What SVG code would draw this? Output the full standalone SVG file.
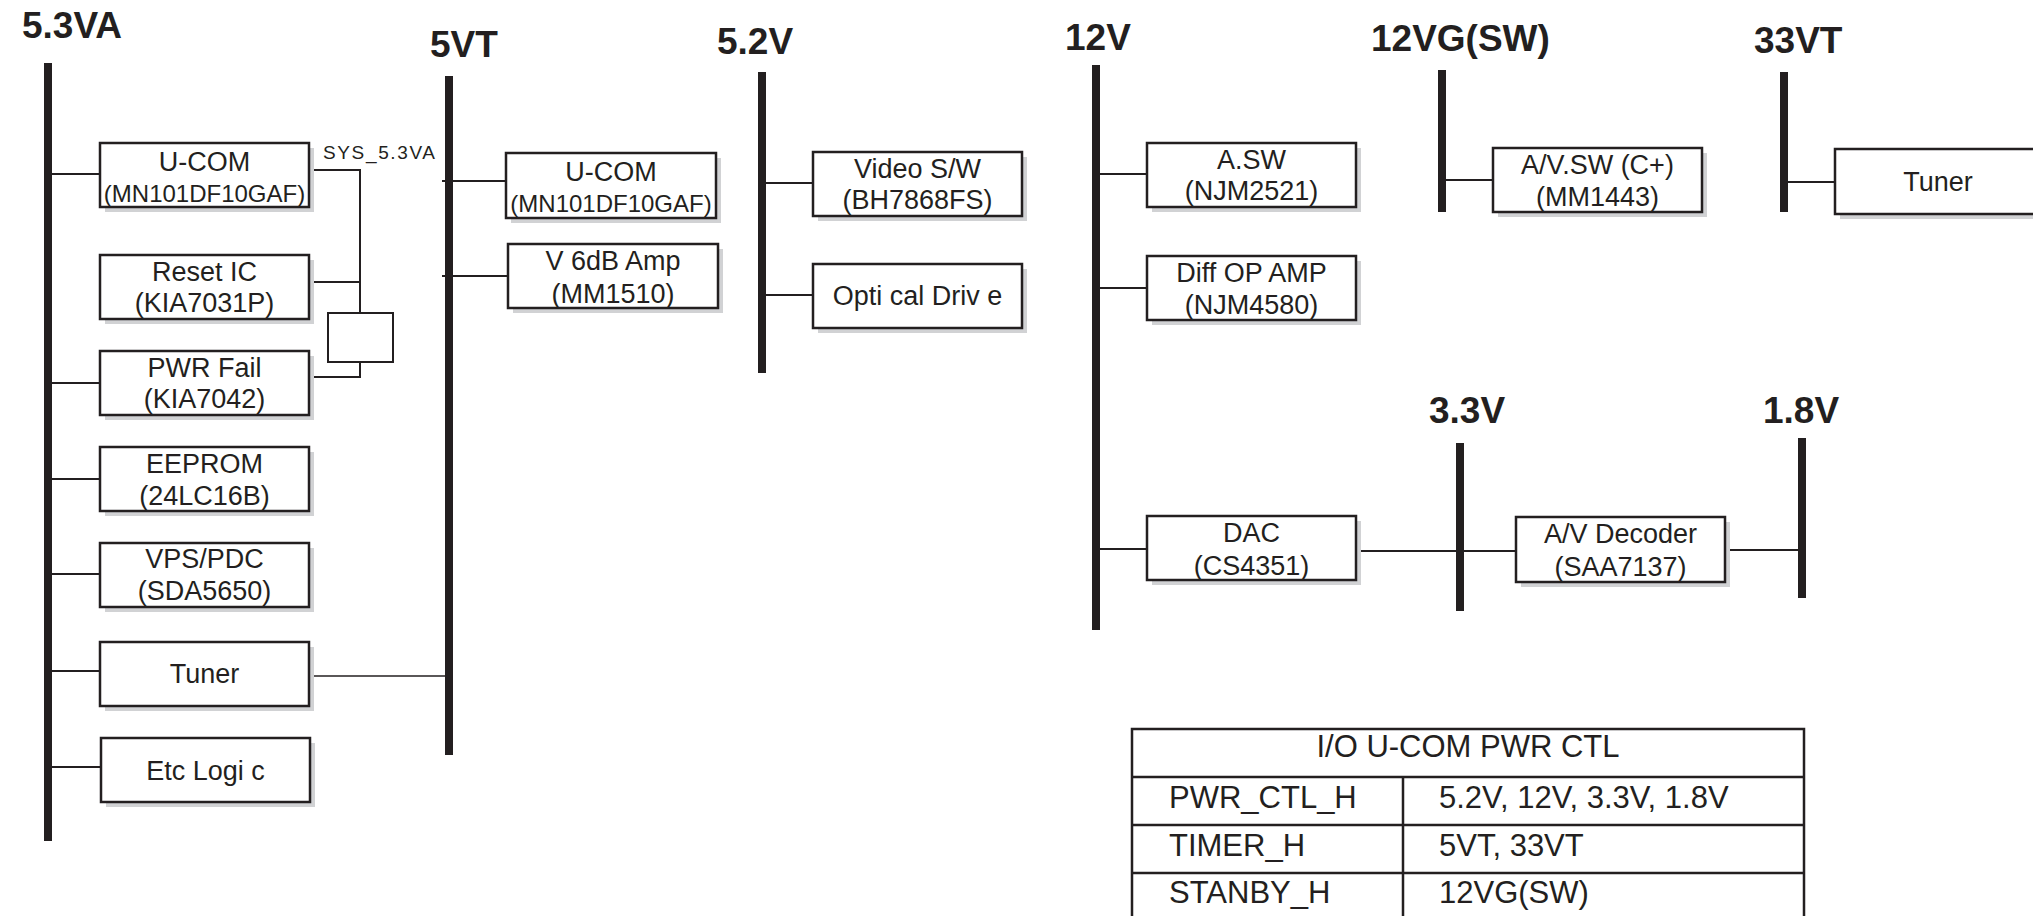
<svg xmlns="http://www.w3.org/2000/svg" width="2033" height="916" viewBox="0 0 2033 916">
<style>
.bus{fill:#231f20}
.shadow{fill:#d1d2d4}
.box{fill:#fff;stroke:#231f20;stroke-width:2.5}
.wire{stroke:#231f20;stroke-width:2;fill:none}
.thin{stroke:#231f20;stroke-width:1.4;fill:none}
.t{font-family:"Liberation Sans",Arial,sans-serif;font-size:27px;fill:#231f20;text-anchor:middle}
.s{font-size:24px}
.h{font-family:"Liberation Sans",Arial,sans-serif;font-size:37px;font-weight:bold;fill:#231f20}
.tb{font-family:"Liberation Sans",Arial,sans-serif;font-size:31px;fill:#231f20}
.grid{stroke:#231f20;stroke-width:2.5;fill:none}
</style>

<g id="rails">
  <rect class="bus" x="44" y="63" width="8" height="778"/>
  <rect class="bus" x="445" y="76" width="8" height="679"/>
  <rect class="bus" x="758" y="72" width="8" height="301"/>
  <rect class="bus" x="1092" y="65" width="8" height="565"/>
  <rect class="bus" x="1438" y="70" width="8" height="142"/>
  <rect class="bus" x="1780" y="72" width="8" height="140"/>
  <rect class="bus" x="1456" y="443" width="8" height="168"/>
  <rect class="bus" x="1798" y="438" width="8" height="160"/>
  <text class="h" x="22" y="38">5.3VA</text>
  <text class="h" x="430" y="57">5VT</text>
  <text class="h" x="717" y="54">5.2V</text>
  <text class="h" x="1065" y="50">12V</text>
  <text class="h" x="1371" y="51">12VG(SW)</text>
  <text class="h" x="1754" y="53">33VT</text>
  <text class="h" x="1429" y="423">3.3V</text>
  <text class="h" x="1763" y="423">1.8V</text>
</g>

<g id="connectors">
  <path class="wire" d="M52 174H100M52 383H100M52 479H100M52 574H100M52 671H100M52 767H101"/>
  <path class="wire" d="M309 170H360V313M309 282H360M360 362V377H309"/>
  <path class="thin" d="M309 676H445"/>
  <path class="wire" d="M442 181H506M442 276H508"/>
  <path class="wire" d="M762 183H813M762 295H813"/>
  <path class="wire" d="M1096 174H1147M1096 288H1147M1096 549H1147"/>
  <path class="wire" d="M1442 180H1493"/>
  <path class="wire" d="M1784 182H1835"/>
  <path class="wire" d="M1356 551H1516"/>
  <path class="wire" d="M1725 550H1802"/>
  <text x="323" y="159" font-family="Liberation Sans, Arial, sans-serif" font-size="19" fill="#231f20" textLength="112">SYS_5.3VA</text>
</g>

<g id="ucom1"><rect class="shadow" x="105" y="148" width="209" height="64"/><rect class="box" x="100" y="143" width="209" height="64"/><text class="t" x="204.5" y="171">U-COM</text><text class="t s" x="204.5" y="202">(MN101DF10GAF)</text></g>
<g id="reset"><rect class="shadow" x="105" y="260" width="209" height="64"/><rect class="box" x="100" y="255" width="209" height="64"/><text class="t" x="204.5" y="281">Reset IC</text><text class="t" x="204.5" y="312">(KIA7031P)</text></g>
<g id="sysbox"><rect class="box" x="328" y="313" width="65" height="49" style="stroke-width:2"/></g>
<g id="pwrfail"><rect class="shadow" x="105" y="356" width="209" height="64"/><rect class="box" x="100" y="351" width="209" height="64"/><text class="t" x="204.5" y="377">PWR Fail</text><text class="t" x="204.5" y="408">(KIA7042)</text></g>
<g id="eeprom"><rect class="shadow" x="105" y="452" width="209" height="64"/><rect class="box" x="100" y="447" width="209" height="64"/><text class="t" x="204.5" y="473">EEPROM</text><text class="t" x="204.5" y="505">(24LC16B)</text></g>
<g id="vps"><rect class="shadow" x="105" y="548" width="209" height="64"/><rect class="box" x="100" y="543" width="209" height="64"/><text class="t" x="204.5" y="568">VPS/PDC</text><text class="t" x="204.5" y="600">(SDA5650)</text></g>
<g id="tuner1"><rect class="shadow" x="105" y="647" width="209" height="64"/><rect class="box" x="100" y="642" width="209" height="64"/><text class="t" x="204.5" y="683">Tuner</text></g>
<g id="etc"><rect class="shadow" x="106" y="743" width="209" height="64"/><rect class="box" x="101" y="738" width="209" height="64"/><text class="t" x="205.5" y="780">Etc Logi c</text></g>

<g id="ucom2"><rect class="shadow" x="511" y="158" width="210" height="65"/><rect class="box" x="506" y="153" width="210" height="65"/><text class="t" x="611" y="181">U-COM</text><text class="t s" x="611" y="212">(MN101DF10GAF)</text></g>
<g id="v6db"><rect class="shadow" x="513" y="249" width="210" height="64"/><rect class="box" x="508" y="244" width="210" height="64"/><text class="t" x="613" y="270">V 6dB Amp</text><text class="t" x="613" y="303">(MM1510)</text></g>

<g id="videosw"><rect class="shadow" x="818" y="157" width="209" height="64"/><rect class="box" x="813" y="152" width="209" height="64"/><text class="t" x="917.5" y="178">Video S/W</text><text class="t" x="917.5" y="209">(BH7868FS)</text></g>
<g id="optical"><rect class="shadow" x="818" y="269" width="209" height="64"/><rect class="box" x="813" y="264" width="209" height="64"/><text class="t" x="917.5" y="305">Opti cal Driv e</text></g>

<g id="asw"><rect class="shadow" x="1152" y="148" width="209" height="64"/><rect class="box" x="1147" y="143" width="209" height="64"/><text class="t" x="1251.5" y="169">A.SW</text><text class="t" x="1251.5" y="200">(NJM2521)</text></g>
<g id="diffop"><rect class="shadow" x="1152" y="261" width="209" height="64"/><rect class="box" x="1147" y="256" width="209" height="64"/><text class="t" x="1251.5" y="282">Diff OP AMP</text><text class="t" x="1251.5" y="314">(NJM4580)</text></g>
<g id="dac"><rect class="shadow" x="1152" y="521" width="209" height="64"/><rect class="box" x="1147" y="516" width="209" height="64"/><text class="t" x="1251.5" y="542">DAC</text><text class="t" x="1251.5" y="575">(CS4351)</text></g>

<g id="avsw"><rect class="shadow" x="1498" y="153" width="209" height="64"/><rect class="box" x="1493" y="148" width="209" height="64"/><text class="t" x="1597.5" y="174">A/V.SW (C+)</text><text class="t" x="1597.5" y="206">(MM1443)</text></g>
<g id="tuner2"><rect class="shadow" x="1840" y="154" width="209" height="65"/><rect class="box" x="1835" y="149" width="209" height="65"/><text class="t" x="1938" y="191">Tuner</text></g>
<g id="avdec"><rect class="shadow" x="1521" y="522" width="209" height="65"/><rect class="box" x="1516" y="517" width="209" height="65"/><text class="t" x="1620.5" y="543">A/V Decoder</text><text class="t" x="1620.5" y="576">(SAA7137)</text></g>

<g id="table">
  <rect class="grid" x="1132" y="729" width="672" height="210"/>
  <path class="grid" d="M1132 777H1804M1132 825H1804M1132 873H1804M1403 777V939"/>
  <text class="tb" x="1468" y="757" text-anchor="middle" font-size="32">I/O U-COM PWR CTL</text>
  <text class="tb" x="1169" y="808">PWR_CTL_H</text>
  <text class="tb" x="1439" y="808">5.2V, 12V, 3.3V, 1.8V</text>
  <text class="tb" x="1169" y="856">TIMER_H</text>
  <text class="tb" x="1439" y="856">5VT, 33VT</text>
  <text class="tb" x="1169" y="903">STANBY_H</text>
  <text class="tb" x="1439" y="903">12VG(SW)</text>
</g>
</svg>
